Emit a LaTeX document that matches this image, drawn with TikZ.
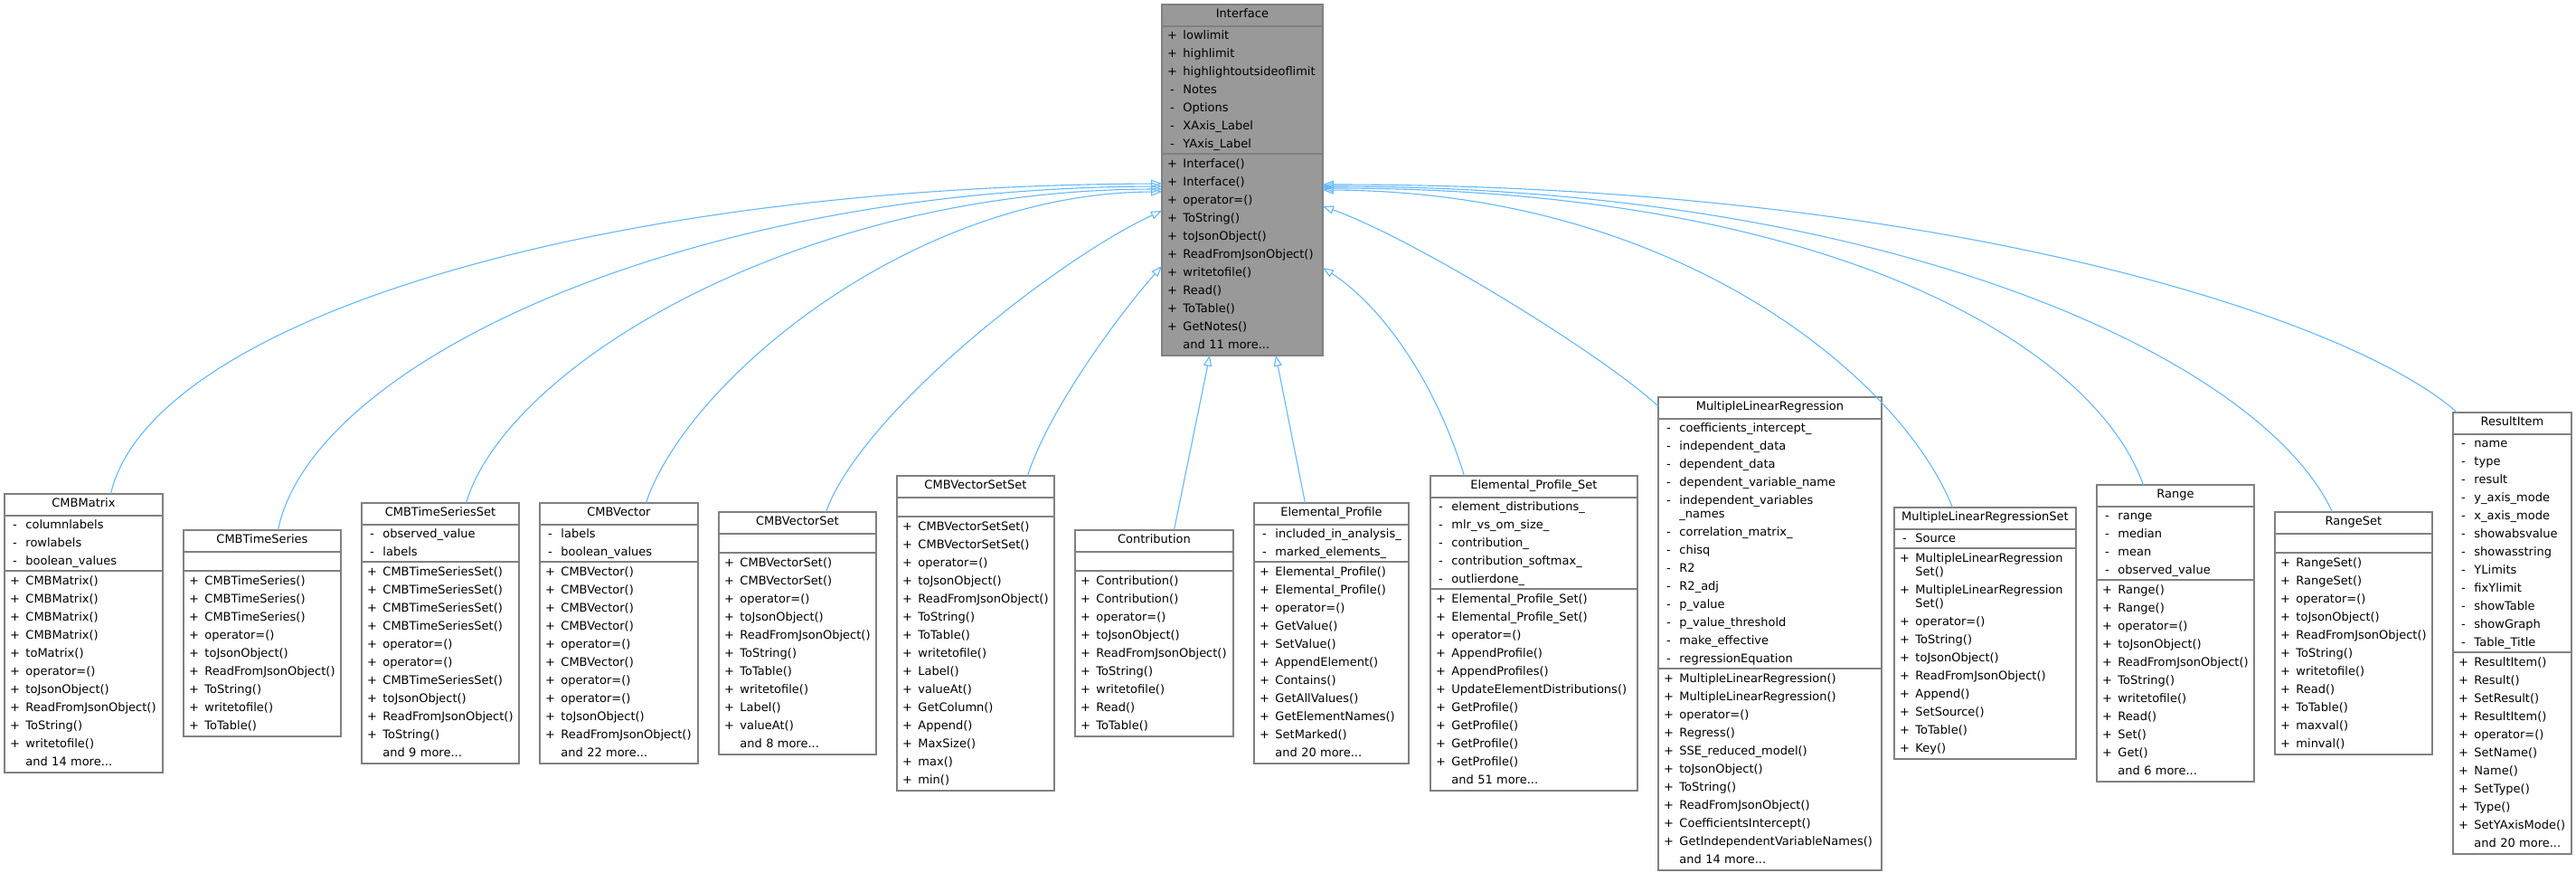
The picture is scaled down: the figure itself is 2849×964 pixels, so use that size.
\documentclass[tikz,border=0pt]{standalone}
\usepackage{fontspec}
\setmainfont{DejaVu Sans}
\usetikzlibrary{arrows.meta}
\definecolor{bordc}{HTML}{808080}
\definecolor{edgec}{HTML}{63B8FF}
\definecolor{ifill}{HTML}{999999}
\newcommand\pl[1]{\strut\makebox[22pt][c]{+}\hspace{1pt}#1}
\newcommand\mi[1]{\strut\makebox[22pt][c]{-}\hspace{1pt}#1}
\newcommand\andmore[1]{\strut\hspace*{23pt}and #1 more...}
\newcommand\wrapline[1]{\strut\hspace*{23pt}#1}
\newcommand\hstrut{\rule[-5pt]{0pt}{16pt}}
\tikzset{
  boxfont/.style={font=\fontsize{13}{20}\selectfont},
  hdrbox/.style={boxfont, draw=bordc, line width=0.9pt, anchor=north west, inner sep=0pt, minimum height=23pt, align=center},
  attbox/.style={boxfont, draw=bordc, line width=0.9pt, anchor=north west, inner sep=0pt, minimum height=20pt, align=left},
  metbox/.style={attbox, inner ysep=1pt},
  outerbox/.style={draw=bordc, line width=1.6pt},
  inh/.style={draw=edgec, line width=1.1pt, -{Triangle[open, length=12pt, width=9pt]}},
}
\newcommand\classbox[8]{%
  \node[hdrbox, fill=#5, text width=#4pt] (#1-h) at (#2,#3) {\hstrut#6};
  \node[attbox, fill=#5, text width=#4pt] (#1-a) at (#1-h.south west) {#7};
  \node[metbox, fill=#5, text width=#4pt] (#1-m) at (#1-a.south west) {#8};
  \draw[outerbox] (#1-h.north west) rectangle (#1-m.south east);
}
\begin{document}
\begin{tikzpicture}[x=1pt,y=-1pt]
\useasboundingbox (0,0) rectangle (2849,964);
\fill[white] (0,0) rectangle (2849,964);

\classbox{iface}{1285}{5}{177}{ifill}{Interface}{%
\pl{lowlimit}\\\pl{highlimit}\\\pl{highlightoutsideoflimit}\\\mi{Notes}\\\mi{Options}\\\mi{XAxis\_Label}\\\mi{YAxis\_Label}}{%
\pl{Interface()}\\\pl{Interface()}\\\pl{operator=()}\\\pl{ToString()}\\\pl{toJsonObject()}\\\pl{ReadFromJsonObject()}\\\pl{writetofile()}\\\pl{Read()}\\\pl{ToTable()}\\\pl{GetNotes()}\\\andmore{11}}

\classbox{cmbmatrix}{5}{546}{174}{white}{CMBMatrix}{%
\mi{columnlabels}\\\mi{rowlabels}\\\mi{boolean\_values}}{%
\pl{CMBMatrix()}\\\pl{CMBMatrix()}\\\pl{CMBMatrix()}\\\pl{CMBMatrix()}\\\pl{toMatrix()}\\\pl{operator=()}\\\pl{toJsonObject()}\\\pl{ReadFromJsonObject()}\\\pl{ToString()}\\\pl{writetofile()}\\\andmore{14}}

\classbox{cmbts}{203}{586}{173}{white}{CMBTimeSeries}{}{%
\pl{CMBTimeSeries()}\\\pl{CMBTimeSeries()}\\\pl{CMBTimeSeries()}\\\pl{operator=()}\\\pl{toJsonObject()}\\\pl{ReadFromJsonObject()}\\\pl{ToString()}\\\pl{writetofile()}\\\pl{ToTable()}}

\classbox{cmbtss}{400}{556}{173}{white}{CMBTimeSeriesSet}{%
\mi{observed\_value}\\\mi{labels}}{%
\pl{CMBTimeSeriesSet()}\\\pl{CMBTimeSeriesSet()}\\\pl{CMBTimeSeriesSet()}\\\pl{CMBTimeSeriesSet()}\\\pl{operator=()}\\\pl{operator=()}\\\pl{CMBTimeSeriesSet()}\\\pl{toJsonObject()}\\\pl{ReadFromJsonObject()}\\\pl{ToString()}\\\andmore{9}}

\classbox{cmbvec}{597}{556}{174}{white}{CMBVector}{%
\mi{labels}\\\mi{boolean\_values}}{%
\pl{CMBVector()}\\\pl{CMBVector()}\\\pl{CMBVector()}\\\pl{CMBVector()}\\\pl{operator=()}\\\pl{CMBVector()}\\\pl{operator=()}\\\pl{operator=()}\\\pl{toJsonObject()}\\\pl{ReadFromJsonObject()}\\\andmore{22}}

\classbox{cmbvs}{795}{566}{173}{white}{CMBVectorSet}{}{%
\pl{CMBVectorSet()}\\\pl{CMBVectorSet()}\\\pl{operator=()}\\\pl{toJsonObject()}\\\pl{ReadFromJsonObject()}\\\pl{ToString()}\\\pl{ToTable()}\\\pl{writetofile()}\\\pl{Label()}\\\pl{valueAt()}\\\andmore{8}}

\classbox{cmbvss}{992}{526}{173}{white}{CMBVectorSetSet}{}{%
\pl{CMBVectorSetSet()}\\\pl{CMBVectorSetSet()}\\\pl{operator=()}\\\pl{toJsonObject()}\\\pl{ReadFromJsonObject()}\\\pl{ToString()}\\\pl{ToTable()}\\\pl{writetofile()}\\\pl{Label()}\\\pl{valueAt()}\\\pl{GetColumn()}\\\pl{Append()}\\\pl{MaxSize()}\\\pl{max()}\\\pl{min()}}

\classbox{contrib}{1189}{586}{174}{white}{Contribution}{}{%
\pl{Contribution()}\\\pl{Contribution()}\\\pl{operator=()}\\\pl{toJsonObject()}\\\pl{ReadFromJsonObject()}\\\pl{ToString()}\\\pl{writetofile()}\\\pl{Read()}\\\pl{ToTable()}}

\classbox{elp}{1387}{556}{170}{white}{Elemental\_Profile}{%
\mi{included\_in\_analysis\_}\\\mi{marked\_elements\_}}{%
\pl{Elemental\_Profile()}\\\pl{Elemental\_Profile()}\\\pl{operator=()}\\\pl{GetValue()}\\\pl{SetValue()}\\\pl{AppendElement()}\\\pl{Contains()}\\\pl{GetAllValues()}\\\pl{GetElementNames()}\\\pl{SetMarked()}\\\andmore{20}}

\classbox{elps}{1582}{526}{228}{white}{Elemental\_Profile\_Set}{%
\mi{element\_distributions\_}\\\mi{mlr\_vs\_om\_size\_}\\\mi{contribution\_}\\\mi{contribution\_softmax\_}\\\mi{outlierdone\_}}{%
\pl{Elemental\_Profile\_Set()}\\\pl{Elemental\_Profile\_Set()}\\\pl{operator=()}\\\pl{AppendProfile()}\\\pl{AppendProfiles()}\\\pl{UpdateElementDistributions()}\\\pl{GetProfile()}\\\pl{GetProfile()}\\\pl{GetProfile()}\\\pl{GetProfile()}\\\andmore{51}}

\classbox{mlr}{1834}{439}{246}{white}{MultipleLinearRegression}{%
\mi{coefficients\_intercept\_}\\\mi{independent\_data}\\\mi{dependent\_data}\\\mi{dependent\_variable\_name}\\\mi{independent\_variables}\\[-5pt]\wrapline{\_names}\\\mi{correlation\_matrix\_}\\\mi{chisq}\\\mi{R2}\\\mi{R2\_adj}\\\mi{p\_value}\\\mi{p\_value\_threshold}\\\mi{make\_effective}\\\mi{regressionEquation}}{%
\pl{MultipleLinearRegression()}\\\pl{MultipleLinearRegression()}\\\pl{operator=()}\\\pl{Regress()}\\\pl{SSE\_reduced\_model()}\\\pl{toJsonObject()}\\\pl{ToString()}\\\pl{ReadFromJsonObject()}\\\pl{CoefficientsIntercept()}\\\pl{GetIndependentVariableNames()}\\\andmore{14}}

\classbox{mlrs}{2095}{561}{200}{white}{MultipleLinearRegressionSet}{%
\mi{Source}}{%
\pl{MultipleLinearRegression}\\[-5pt]\wrapline{Set()}\\\pl{MultipleLinearRegression}\\[-5pt]\wrapline{Set()}\\\pl{operator=()}\\\pl{ToString()}\\\pl{toJsonObject()}\\\pl{ReadFromJsonObject()}\\\pl{Append()}\\\pl{SetSource()}\\\pl{ToTable()}\\\pl{Key()}}

\classbox{range}{2319}{536}{173}{white}{Range}{%
\mi{range}\\\mi{median}\\\mi{mean}\\\mi{observed\_value}}{%
\pl{Range()}\\\pl{Range()}\\\pl{operator=()}\\\pl{toJsonObject()}\\\pl{ReadFromJsonObject()}\\\pl{ToString()}\\\pl{writetofile()}\\\pl{Read()}\\\pl{Set()}\\\pl{Get()}\\\andmore{6}}

\classbox{rangeset}{2516}{566}{173}{white}{RangeSet}{}{%
\pl{RangeSet()}\\\pl{RangeSet()}\\\pl{operator=()}\\\pl{toJsonObject()}\\\pl{ReadFromJsonObject()}\\\pl{ToString()}\\\pl{writetofile()}\\\pl{Read()}\\\pl{ToTable()}\\\pl{maxval()}\\\pl{minval()}}

\classbox{result}{2713}{456}{130}{white}{ResultItem}{%
\mi{name}\\\mi{type}\\\mi{result}\\\mi{y\_axis\_mode}\\\mi{x\_axis\_mode}\\\mi{showabsvalue}\\\mi{showasstring}\\\mi{YLimits}\\\mi{fixYlimit}\\\mi{showTable}\\\mi{showGraph}\\\mi{Table\_Title}}{%
\pl{ResultItem()}\\\pl{Result()}\\\pl{SetResult()}\\\pl{ResultItem()}\\\pl{operator=()}\\\pl{SetName()}\\\pl{Name()}\\\pl{SetType()}\\\pl{Type()}\\\pl{SetYAxisMode()}\\\andmore{20}}

% inheritance connectors
\draw[inh] ([xshift=30pt]cmbmatrix-h.north) .. controls (165,360) and (640,206) .. ([yshift=-198pt]iface-h.north west);
\draw[inh] ([xshift=17.5pt]cmbts-h.north) .. controls (345,400) and (760,208) .. ([yshift=-201pt]iface-h.north west);
\draw[inh] ([xshift=28.5pt]cmbtss-h.north) .. controls (560,406) and (880,210) .. ([yshift=-204pt]iface-h.north west);
\draw[inh] ([xshift=30pt]cmbvec-h.north) .. controls (760,420) and (1010,213) .. ([yshift=-207pt]iface-h.north west);
\draw[inh] ([xshift=31.5pt]cmbvs-h.north) .. controls (953,456) and (1170,286) .. ([yshift=-228pt]iface-h.north west);
\draw[inh] ([xshift=57.5pt]cmbvss-h.north) .. controls (1161,450) and (1240,345) .. ([yshift=-289pt]iface-h.north west);
\draw[inh] ([xshift=22pt]contrib-h.north) -- ([xshift=-36pt]iface-m.south);
\draw[inh] ([xshift=-29pt]elp-h.north) -- ([xshift=37pt]iface-m.south);
\draw[inh] ([xshift=-77pt]elps-h.north) .. controls (1584,411) and (1521,333) .. ([yshift=-291pt]iface-h.north east);
\draw[inh] ([yshift=-10pt]mlr-h.north west) .. controls (1770,390) and (1560,262) .. ([yshift=-223pt]iface-h.north east);
\draw[inh] ([xshift=-36pt]mlrs-h.north) .. controls (2104,421) and (1860,212) .. ([yshift=-205pt]iface-h.north east);
\draw[inh] ([xshift=-35.5pt]range-h.north) .. controls (2315,380) and (2020,208) .. ([yshift=-203pt]iface-h.north east);
\draw[inh] ([xshift=-23.5pt]rangeset-h.north) .. controls (2504,401) and (2100,206) .. ([yshift=-201pt]iface-h.north east);
\draw[inh] ([xshift=-61pt]result-h.north) .. controls (2607,356) and (2160,204) .. ([yshift=-199pt]iface-h.north east);
\end{tikzpicture}
\end{document}
